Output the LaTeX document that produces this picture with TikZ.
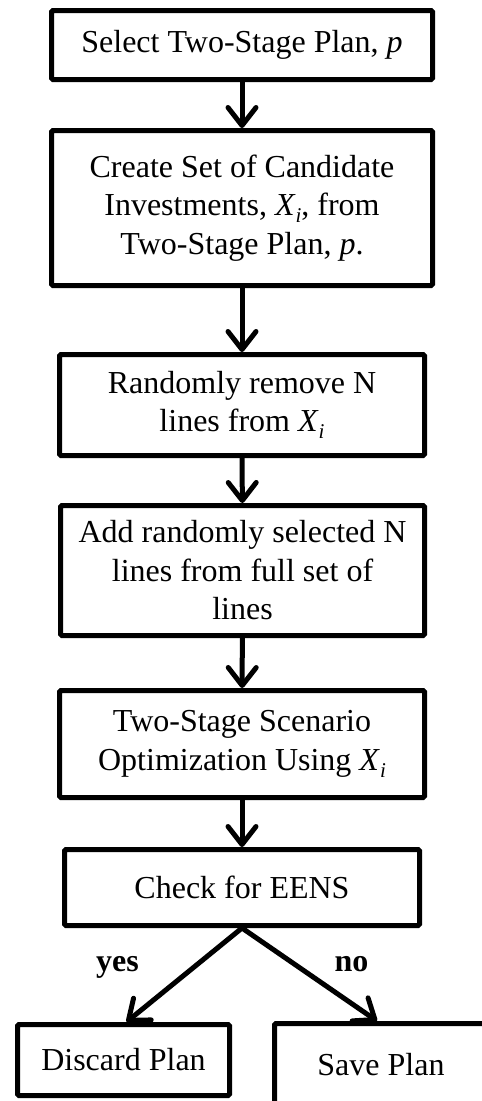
\documentclass[tikz,border=0pt]{standalone}
\usepackage{fontspec}
\setmainfont{Liberation Serif}
\usetikzlibrary{arrows.meta}
\tikzset{
  box/.style={draw, line width=5pt, rounded corners=1.5pt, align=center, inner sep=0pt,
    font=\fontsize{32}{38.5}\selectfont},
  flow/.style={line width=5pt, -{Straight Barb[length=18pt,width=28pt,line join=round,line cap=round]}},
  lbl/.style={font=\fontsize{32}{38.5}\selectfont\bfseries, anchor=base}
}
\newcommand{\myXi}{\textit{X}\raisebox{-7pt}{\fontsize{21}{21}\selectfont\textit{i}}}
\begin{document}
\begin{tikzpicture}[x=1pt,y=-1pt]
\useasboundingbox (0,0) rectangle (482,1101);
\clip (0,0) rectangle (482,1101);
\node[box, minimum width=381pt, minimum height=69pt] (sel) at (242,45) {Select Two-Stage Plan, \textit{p}};
\node[box, minimum width=381pt, minimum height=155pt] (cre) at (242,208) {Create Set of Candidate\\Investments, \myXi, from\\Two-Stage Plan, \textit{p}.};
\node[box, minimum width=365pt, minimum height=101pt] (rem) at (242,405) {Randomly remove N\\lines from \myXi};
\node[box, minimum width=364pt, minimum height=130pt] (add) at (242.5,570.5) {Add randomly selected N\\lines from full set of\\lines};
\node[box, minimum width=365pt, minimum height=107pt] (opt) at (242,744) {Two-Stage Scenario\\Optimization Using \myXi};
\node[box, minimum width=355pt, minimum height=76pt] (chk) at (242,887.5) {Check for EENS};
\node[box, minimum width=212pt, minimum height=71pt] (dis) at (123.5,1060) {Discard Plan};
\node[box, minimum width=213pt, minimum height=83pt] (sav) at (381,1065) {Save Plan};
\draw[flow] (sel) -- (cre);
\draw[flow] (cre) -- (rem);
\draw[flow] (rem) -- (add);
\draw[flow] (add) -- (opt);
\draw[flow] (opt) -- (chk);
\draw[flow] (chk.south) -- ([xshift=3pt]dis.north);
\draw[flow] (chk.south) -- ([xshift=-4pt]sav.north);
\node[lbl] (yes) at (117.5,971) {yes};
\node[lbl] (no) at (351.5,971) {no};
\end{tikzpicture}
\end{document}
